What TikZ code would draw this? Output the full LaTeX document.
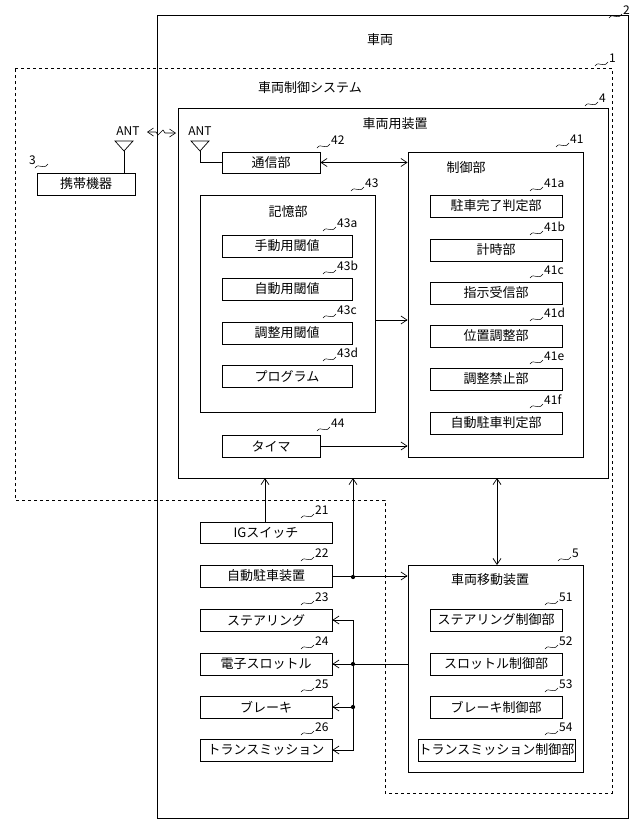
\documentclass[tikz,border=0pt]{standalone}
\usepackage{fontspec}
\setmainfont{Noto Sans CJK JP}
\usetikzlibrary{arrows.meta}
\tikzset{
 bx/.style={draw, line width=0.9pt, inner sep=0pt, font=\fontsize{13}{14}\selectfont},
 ttl/.style={font=\fontsize{13}{14}\selectfont},
 ref/.style={font=\fontsize{12}{13}\selectfont, anchor=west, inner sep=1pt},
 arr/.style={-{Straight Barb[length=6pt,width=8pt]}, line width=0.7pt},
 darr/.style={{Straight Barb[length=6pt,width=8pt]}-{Straight Barb[length=6pt,width=8pt]}, line width=0.7pt},
 dot/.style={circle, fill, inner sep=1.5pt},
}
\newcommand\bx[6]{\node[bx, minimum width={(#4-#2)*1pt}, minimum height={(#5-#3)*1pt}] (#1) at ({(#2+#4)/2},{(#3+#5)/2}) {#6};}
\newcommand\reflbl[4]{\draw[line width=0.5pt] (#2-17,#3+4) .. controls (#2-13,#3-2) and (#2-9,#3+7) .. (#2-4,#3); \node[ref] (#1) at (#2-4,#3-4) {#4};}
\begin{document}
\begin{tikzpicture}[x=1pt,y=-1pt]
\useasboundingbox (0,0) rectangle (640,825);
% vehicle
\bx{n2}{157}{15}{628}{818}{}
\node[ttl] (t2) at (380,40) {車両};
\reflbl{l2}{626}{14}{2}
% system dashed
\draw[dashed, line width=0.8pt, dash pattern=on 3pt off 3pt] (15,68) -- (612,68) -- (612,793) -- (385,793) -- (385,500) -- (15,500) -- cycle;
\reflbl{l1}{612}{62}{1}
\node[ttl] (t1) at (310,88) {車両制御システム};
% box 4
\bx{n4}{178}{108}{608}{478}{}
\node[ttl] (t4) at (395,124) {車両用装置};
\reflbl{l4}{602}{102}{4}
% portable
\bx{n3}{37}{173}{135}{195}{携帯機器}
\reflbl{l3}{52}{164}{}
\node[ref,anchor=east] (l3t) at (37,160) {3};
\node[ttl, font=\fontsize{12}{13}\selectfont] (antL) at (128,131) {ANT};
\coordinate (aL) at (124,151);
\draw[line width=0.7pt] (115,141) -- (133,141) -- (aL) -- cycle;
\draw[line width=0.7pt] (aL) -- (aL |- n3.north);
\node[ttl, font=\fontsize{12}{13}\selectfont] (antR) at (200,131) {ANT};
\coordinate (aR) at (200,151);
\draw[line width=0.7pt] (191,141) -- (209,141) -- (aR) -- cycle;
% wireless arrow
\coordinate (w1) at (147,132); \coordinate (w2) at (176,133);
\draw[darr, line width=0.6pt] (w1) -- (156,132) -- (158,135) -- (163,130) -- (165,133) -- (w2);
% 42
\bx{n42}{222}{152}{320}{173}{通信部}
\reflbl{l42}{334}{144}{42}
\draw[line width=0.7pt] (aR) |- (n42.west);
% 41
\bx{n41}{408}{152}{583}{457}{}
\node[ttl] (t41) at (466,168) {制御部};
\reflbl{l41}{573}{143}{41}
\draw[darr] (n42.east) -- (n41.west |- n42.east);
\bx{n41a}{430}{195}{562}{217}{駐車完了判定部}
\reflbl{l41a}{547}{187}{41a}
\bx{n41b}{430}{239}{562}{261}{計時部}
\reflbl{l41b}{547}{231}{41b}
\bx{n41c}{430}{282}{562}{304}{指示受信部}
\reflbl{l41c}{547}{274}{41c}
\bx{n41d}{430}{325}{562}{347}{位置調整部}
\reflbl{l41d}{547}{317}{41d}
\bx{n41e}{430}{368}{562}{390}{調整禁止部}
\reflbl{l41e}{547}{360}{41e}
\bx{n41f}{430}{412}{562}{434}{自動駐車判定部}
\reflbl{l41f}{547}{404}{41f}
% 43
\bx{n43}{200}{195}{375}{412}{}
\node[ttl] (t43) at (288,212) {記憶部};
\reflbl{l43}{368}{187}{43}
\bx{n43a}{222}{235}{352}{257}{手動用閾値}
\reflbl{l43a}{340}{227}{43a}
\bx{n43b}{222}{278}{352}{300}{自動用閾値}
\reflbl{l43b}{340}{270}{43b}
\bx{n43c}{222}{322}{352}{344}{調整用閾値}
\reflbl{l43c}{340}{314}{43c}
\bx{n43d}{222}{365}{352}{387}{プログラム}
\reflbl{l43d}{340}{357}{43d}
\draw[arr] (375,320) -- (n41.west |- 0,320);
% 44
\bx{n44}{222}{435}{320}{457}{タイマ}
\reflbl{l44}{334}{427}{44}
\draw[arr] (n44.east) -- (n41.west |- n44.east);
% 21-26
\bx{n21}{200}{522}{332}{543}{IGスイッチ}
\reflbl{l21}{318}{514}{21}
\bx{n22}{200}{565}{332}{587}{自動駐車装置}
\reflbl{l22}{318}{557}{22}
\bx{n23}{200}{609}{332}{631}{ステアリング}
\reflbl{l23}{318}{601}{23}
\bx{n24}{200}{653}{332}{675}{電子スロットル}
\reflbl{l24}{318}{645}{24}
\bx{n25}{200}{696}{332}{718}{ブレーキ}
\reflbl{l25}{318}{688}{25}
\bx{n26}{200}{739}{332}{761}{トランスミッション}
\reflbl{l26}{318}{731}{26}
% 5
\bx{n5}{408}{565}{583}{772}{}
\node[ttl] (t5) at (490,580) {車両移動装置};
\reflbl{l5}{575}{557}{5}
\bx{n51}{430}{609}{562}{631}{ステアリング制御部}
\reflbl{l51}{562}{601}{51}
\bx{n52}{430}{653}{562}{675}{スロットル制御部}
\reflbl{l52}{562}{645}{52}
\bx{n53}{430}{696}{562}{718}{ブレーキ制御部}
\reflbl{l53}{562}{688}{53}
\bx{n54}{418}{739}{575}{761}{トランスミッション制御部}
\reflbl{l54}{562}{731}{54}
% connections
\draw[arr] (265,522) -- (265,478);
\node[dot] (d22) at (353,577) {};
\draw[arr] (n22.east) -- (n5.west |- n22.east);
\draw[arr] (d22.center) -- (353,478);
\draw[darr] (497,478) -- (497,565);
\node[dot] (d24) at (353,664) {};
\node[dot] (d25) at (353,707) {};
\draw[line width=0.7pt] (n5.west |- d24) -- (d24.center);
\draw[arr] (d24.center) -- (n24.east);
\draw[arr] (d25.center) -- (n25.east);
\draw[arr] (353,664) |- (n23.east);
\draw[arr] (353,664) |- (n26.east);
\end{tikzpicture}
\end{document}
